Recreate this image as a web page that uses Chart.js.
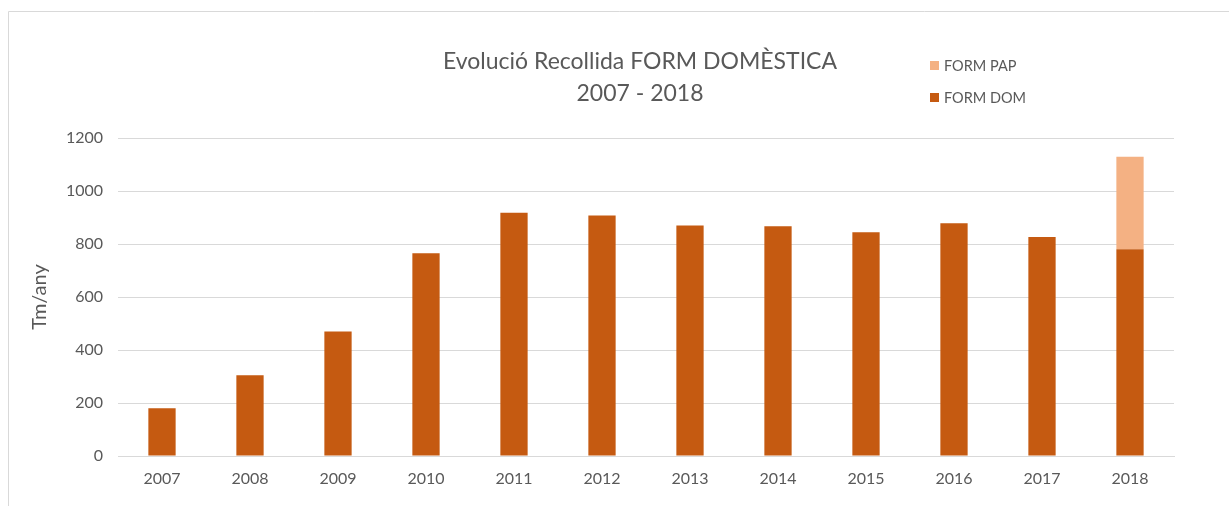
<!DOCTYPE html>
<html>
<head>
<meta charset="utf-8">
<script src="https://cdn.jsdelivr.net/npm/chart.js@4"></script>
<style>
  html, body { margin: 0; padding: 0; background: #fff; }
  #wrap { position: relative; width: 1229px; height: 506px; }
</style>
</head>
<body>
<div id="wrap"><canvas id="formChart" width="1229" height="506"></canvas></div>
<script>
// Chart data
var years = ['2007', '2008', '2009', '2010', '2011', '2012', '2013', '2014', '2015', '2016', '2017', '2018'];
var formDom = [180, 305, 470, 765, 918, 908, 870, 867, 844, 878, 826, 780];
var formPap = [null, null, null, null, null, null, null, null, null, null, null, 349];
var titleLines = ['Evolució Recollida FORM DOMÈSTICA', '2007 - 2018'];
var yTitle = 'Tm/any';

var FONT = 'Lato, Carlito, "Liberation Sans", sans-serif';
var GREY = '#595959';

// border, title and legend drawn by hand so they sit where the original has them
var decorPlugin = {
  id: 'decor',
  beforeDraw: function(chart) {
    var ctx = chart.ctx;
    ctx.save();
    ctx.strokeStyle = '#d9d9d9';
    ctx.lineWidth = 1;
    ctx.beginPath();
    ctx.moveTo(8.5, 520);
    ctx.lineTo(8.5, 11.5);
    ctx.lineTo(1240, 11.5);
    ctx.stroke();
    ctx.restore();
  },
  afterDraw: function(chart) {
    var ctx = chart.ctx;
    ctx.save();
    ctx.fillStyle = GREY;
    ctx.font = '23px ' + FONT;
    ctx.textAlign = 'center';
    ctx.textBaseline = 'middle';
    ctx.fillText(titleLines[0], 640, 62);
    ctx.fillText(titleLines[1], 640, 94);

    // legend, top entry is the top of the stack
    var items = chart.data.datasets.slice().reverse();
    ctx.font = '14.5px ' + FONT;
    ctx.textAlign = 'left';
    items.forEach(function(ds, i) {
      var y = 66 + i * 32;
      ctx.fillStyle = ds.backgroundColor;
      ctx.fillRect(930, y - 5, 9, 9);
      ctx.fillStyle = GREY;
      ctx.fillText(ds.label, 944, y);
    });
    ctx.restore();
  }
};

var ctx = document.getElementById('formChart').getContext('2d');
var formChart = new Chart(ctx, {
  type: 'bar',
  data: {
    labels: years,
    datasets: [{
      label: 'FORM DOM',
      data: formDom,
      backgroundColor: '#C55A11',
      borderWidth: 0
    },
    {
      label: 'FORM PAP',
      data: formPap,
      backgroundColor: '#F4B183',
      borderWidth: 0
    }]
  },
  options: {
    responsive: false,
    animation: false,
    layout: {
      padding: { left: 8, right: 55, top: 138, bottom: 18 }
    },
    datasets: {
      bar: { barPercentage: 0.31, categoryPercentage: 1.0 }
    },
    plugins: {
      legend: { display: false },
      title: { display: false },
      tooltip: { enabled: false }
    },
    scales: {
      x: {
        stacked: true,
        grid: { display: false, drawTicks: false },
        border: { display: true, color: '#d9d9d9' },
        ticks: {
          color: GREY,
          padding: 13,
          font: { family: FONT, size: 16 }
        },
        afterFit: function(scale) { scale.height = 32; }
      },
      y: {
        stacked: true,
        min: 0,
        max: 1200,
        grid: { color: '#d9d9d9', drawTicks: false },
        border: { display: false },
        ticks: {
          stepSize: 200,
          color: GREY,
          padding: 15,
          font: { family: FONT, size: 16 },
          callback: function(value) { return String(value); }
        },
        title: {
          display: true,
          text: yTitle,
          color: GREY,
          padding: { top: 20, bottom: 0 },
          font: { family: FONT, size: 20 }
        },
        afterFit: function(scale) { scale.width = 110; }
      }
    }
  },
  plugins: [decorPlugin]
});
</script>
</body>
</html>
